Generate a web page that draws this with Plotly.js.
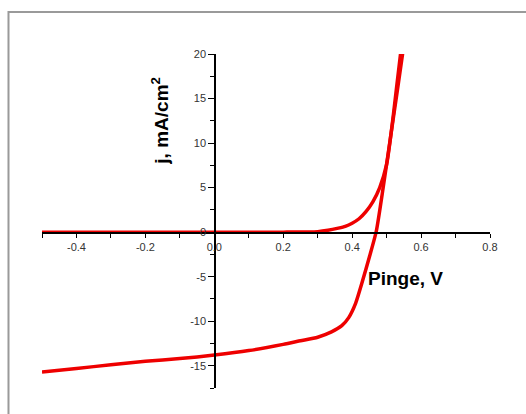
<!DOCTYPE html>
<html>
<head>
<meta charset="utf-8">
<script src="https://cdn.plot.ly/plotly-3.0.1.min.js"></script>
<style>html,body{margin:0;padding:0;background:#fff;}#chart{width:526px;height:414px;}</style>
</head>
<body>
<div id="chart"></div>
<script>
// Curve 1 (dark current)
const darkV = [-0.5, -0.3, -0.1, 0.0, 0.1, 0.2, 0.3, 0.33, 0.36, 0.38, 0.40, 0.42, 0.44, 0.46, 0.48, 0.50, 0.51, 0.52, 0.53, 0.545];
const darkJ = [0, 0, 0, 0, 0, 0, 0.05, 0.2, 0.45, 0.65, 1.0, 1.5, 2.3, 3.4, 5.0, 7.6, 10.2, 13.3, 16.6, 21.5];
// Curve 2 (illuminated)
const lightV = [-0.5, -0.4, -0.3, -0.2, -0.1, 0.0, 0.1, 0.2, 0.25, 0.3, 0.34, 0.37, 0.39, 0.41, 0.43, 0.45, 0.47, 0.49, 0.51, 0.53, 0.55];
const lightJ = [-15.7, -15.3, -14.9, -14.5, -14.2, -13.8, -13.3, -12.6, -12.2, -11.8, -11.2, -10.5, -9.6, -8.0, -5.5, -2.8, 0.1, 5.0, 10.3, 15.6, 21.0];
// Tick labels
const xTickVals = [-0.4, -0.2, 0.0, 0.2, 0.4, 0.6, 0.8];
const xTickText = ["-0.4", "-0.2", "0.0", "0.2", "0.4", "0.6", "0.8"];
const yTickVals = [-15, -10, -5, 0, 5, 10, 15, 20];
const yTickText = ["-15", "-10", "-5", "0", "5", "10", "15", "20"];
const xTitle = "Pinge, V";
const yTitle = "j, mA/cm<sup>2</sup>";

const lineStyle = {color: 'rgb(238,0,0)', width: 3.5, shape: 'spline', smoothing: 0.6};
const traces = [
  {x: darkV, y: darkJ, mode: 'lines', line: lineStyle, hoverinfo: 'skip'},
  {x: lightV, y: lightJ, mode: 'lines', line: lineStyle, hoverinfo: 'skip'}
];

const tickFont = {family: 'Liberation Sans, Arial, sans-serif', size: 11, color: '#333'};
const titleFont = {family: 'Liberation Sans, Arial, sans-serif', size: 19, color: '#000', weight: 'bold'};

const layout = {
  width: 526, height: 414,
  margin: {l: 42, r: 36, t: 54, b: 26},
  paper_bgcolor: '#fff', plot_bgcolor: 'rgba(0,0,0,0)',
  showlegend: false,
  xaxis: {
    range: [-0.5, 0.8], anchor: 'free', position: 17.5/37.5,
    showgrid: false, zeroline: false, showline: true, linecolor: '#000', linewidth: 1.5,
    ticks: 'outside', ticklen: 4, tickwidth: 1, tickcolor: '#000',
    tickmode: 'array', tickvals: xTickVals, ticktext: xTickText, tickfont: tickFont,
    minor: {tickmode: 'linear', tick0: 0, dtick: 0.1, ticks: 'outside', ticklen: 4, tickcolor: '#000', showgrid: false}
  },
  yaxis: {
    range: [-17.5, 20], anchor: 'free', position: 0.5/1.3,
    showgrid: false, zeroline: false, showline: true, linecolor: '#000', linewidth: 1.5,
    ticks: 'outside', ticklen: 6, tickwidth: 1, tickcolor: '#000',
    tickmode: 'array', tickvals: yTickVals, ticktext: yTickText, tickfont: tickFont,
    minor: {tickmode: 'linear', tick0: 0, dtick: 2.5, ticks: 'outside', ticklen: 4, tickcolor: '#000', showgrid: false}
  },
  shapes: [
    {type: 'rect', xref: 'paper', yref: 'paper', x0: -0.0748, x1: 1.3, y0: -0.3, y1: 1.1257,
     line: {color: '#9a9a9a', width: 2}, layer: 'below'}
  ],
  annotations: [
    {text: xTitle, x: 0.556, y: -5.15, xref: 'x', yref: 'y', showarrow: false, font: titleFont},
    {text: yTitle, x: -0.158, y: 12.5, xref: 'x', yref: 'y', showarrow: false, textangle: -90, font: titleFont}
  ]
};

Plotly.newPlot('chart', traces, layout, {staticPlot: true, displayModeBar: false});
</script>
</body>
</html>
